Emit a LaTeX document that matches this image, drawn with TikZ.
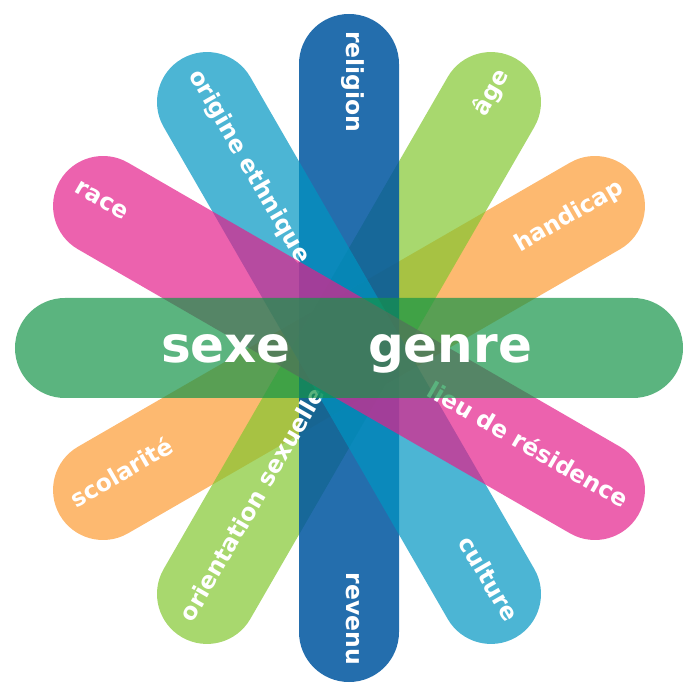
\documentclass[tikz,border=0pt]{standalone}
\usepackage{fontspec}
\setmainfont{DejaVu Sans}
\definecolor{cgreen}{RGB}{21,148,72}
\definecolor{cblue}{RGB}{0,86,160}
\definecolor{ccyan}{RGB}{0,149,194}
\definecolor{cpink}{RGB}{228,31,139}
\definecolor{clgreen}{RGB}{131,199,48}
\definecolor{corange}{RGB}{252,155,51}
\tikzset{
  lbl/.style={text=white, font=\fontsize{23.5}{23.5}\selectfont\bfseries, inner sep=0pt, text height=1ex, text depth=0pt, transform shape},
  big/.style={text=white, font=\fontsize{50}{50}\selectfont\bfseries, inner sep=0pt},
}
\newcommand\petalpath{(-284,-50) -- (284,-50) arc[start angle=-90,end angle=90,radius=50] -- (-284,50) arc[start angle=90,end angle=270,radius=50] -- cycle}
\begin{document}
\begin{tikzpicture}[x=1pt,y=1pt]
\useasboundingbox (-349,-352) rectangle (351,348);
% orange
\begin{scope}[rotate=30]
\fill[corange, fill opacity=0.7] \petalpath;
\node[lbl, anchor=west] (scolarite) at (-317,0) {scolarité};
\node[lbl, anchor=east] (handicap) at (317,0) {handicap};
\end{scope}
% light green
\begin{scope}[rotate=60]
\fill[clgreen, fill opacity=0.7] \petalpath;
\end{scope}
% vertical blue
\begin{scope}[rotate=-90]
\fill[cblue, fill opacity=0.86] \petalpath;
\node[lbl, anchor=west] (religion) at (-317,0) {religion};
\node[lbl, anchor=east] (revenu) at (317,0) {revenu};
\end{scope}
% light green labels
\begin{scope}[rotate=60]
\node[lbl, anchor=west] (orientation) at (-317,0) {orientation sexuelle};
\node[lbl, anchor=east] (age) at (317,0) {âge};
\end{scope}
% cyan
\begin{scope}[rotate=-60]
\fill[ccyan, fill opacity=0.7] \petalpath;
\node[lbl, anchor=west] (origine) at (-317,0) {origine ethnique};
\node[lbl, anchor=east] (culture) at (317,0) {culture};
\end{scope}
% pink
\begin{scope}[rotate=-30]
\fill[cpink, fill opacity=0.7] \petalpath;
\node[lbl, anchor=west] (race) at (-317,0) {race};
\node[lbl, anchor=east] (lieu) at (317,0) {lieu de résidence};
\end{scope}
% horizontal green
\fill[cgreen, fill opacity=0.7] \petalpath;
\node[big, anchor=base] (sexe) at (-123,-15) {sexe};
\node[big, anchor=base] (genre) at (101,-15) {genre};
\end{tikzpicture}
\end{document}
